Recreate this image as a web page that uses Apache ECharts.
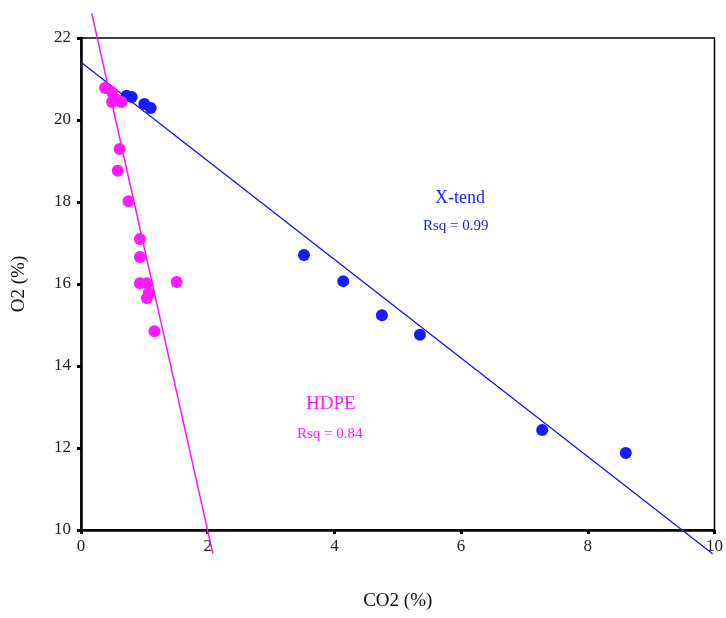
<!DOCTYPE html>
<html>
<head>
<meta charset="utf-8">
<script src="https://cdn.jsdelivr.net/npm/echarts@6/dist/echarts.min.js"></script>
<style>html,body{margin:0;padding:0;background:#fff}#c{width:726px;height:618px}</style>
</head>
<body>
<div id="c"></div>
<script>
var xtendPoints = [[0.72,20.59],[0.8,20.56],[1.0,20.39],[1.1,20.29],[3.52,16.71],[4.14,16.07],[4.75,15.24],[5.35,14.76],[7.28,12.44],[8.6,11.88]];
var hdpePoints = [[0.38,20.78],[0.49,20.68],[0.57,20.49],[0.64,20.44],[0.49,20.44],[0.61,19.29],[0.58,18.76],[0.75,18.02],[0.93,17.1],[0.93,16.66],[0.93,16.02],[1.04,16.02],[1.51,16.05],[1.07,15.78],[1.04,15.66],[1.16,14.85]];
var xtendFit = [[0,21.41],[9.97,9.42]];
var hdpeFit = [[0.17,22.6],[2.08,9.43]];
var xTicks = [0,2,4,6,8,10];
var yTicks = [10,12,14,16,18,20,22];

var chart = echarts.init(document.getElementById('c'), null, {renderer:'canvas'});
var font = 'Liberation Serif';
chart.setOption({
  animation:false,
  grid:{left:81, top:38, right:8, bottom:88, show:true, borderColor:'#000', borderWidth:1.5, backgroundColor:'transparent'},
  xAxis:{type:'value', min:xTicks[0], max:xTicks[xTicks.length-1], interval:2,
    name:'CO2 (%)', nameLocation:'middle', nameGap:62,
    nameTextStyle:{fontFamily:font, fontSize:19, color:'#111'},
    axisLine:{lineStyle:{color:'#000', width:2.5}},
    axisTick:{show:true, length:4, lineStyle:{color:'#000', width:3}},
    axisLabel:{fontFamily:font, fontSize:17, color:'#222', margin:8},
    splitLine:{show:false}},
  yAxis:{type:'value', min:yTicks[0], max:yTicks[yTicks.length-1], interval:2,
    name:'O2 (%)', nameLocation:'middle', nameGap:52, nameRotate:90,
    nameTextStyle:{fontFamily:font, fontSize:19, color:'#111'},
    axisLine:{lineStyle:{color:'#000', width:2.5}},
    axisTick:{show:true, length:4, lineStyle:{color:'#000', width:3}},
    axisLabel:{fontFamily:font, fontSize:17, color:'#222', margin:10},
    splitLine:{show:false}},
  series:[
    {type:'line', data:xtendFit, clip:false, symbol:'none', lineStyle:{color:'#1010ff', width:1.3}, z:3},
    {type:'line', data:hdpeFit, clip:false, symbol:'none', lineStyle:{color:'#ff10ff', width:1.5}, z:3},
    {type:'scatter', data:xtendPoints, symbol:'circle', symbolSize:12, itemStyle:{color:'#1a1aff', opacity:1}, z:4},
    {type:'scatter', data:hdpePoints, symbol:'circle', symbolSize:12, itemStyle:{color:'#ff1aff', opacity:1}, z:4}
  ],
  graphic:[
    {type:'text', left:435, top:189, style:{text:'X-tend', fontFamily:font, fontSize:18, fill:'#1a1aff'}},
    {type:'text', left:423, top:219, style:{text:'Rsq = 0.99', fontFamily:font, fontSize:15, fill:'#1a1aff'}},
    {type:'text', left:306, top:395, style:{text:'HDPE', fontFamily:font, fontSize:19, fill:'#ff1aff'}},
    {type:'text', left:297, top:427, style:{text:'Rsq = 0.84', fontFamily:font, fontSize:15, fill:'#ff1aff'}}
  ]
});
</script>
</body>
</html>
